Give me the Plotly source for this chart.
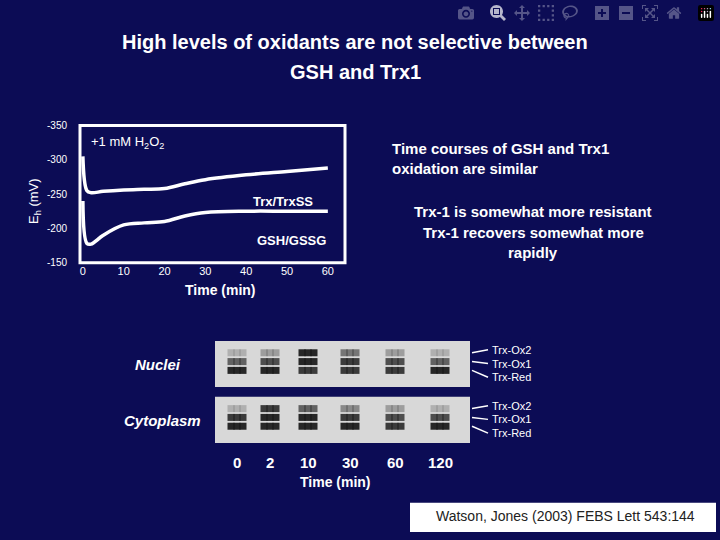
import plotly.graph_objects as go

time_trx = [0, 1, 2, 5, 10, 15, 20, 25, 30, 40, 50, 60]
eh_trx = [-305, -255, -252, -254, -256, -257, -258, -265, -271, -278, -283, -288]
time_gsh = [0, 1, 2, 5, 10, 15, 20, 25, 30, 40, 50, 60]
eh_gsh = [-240, -178, -177, -190, -205, -208, -210, -218, -223, -225, -225, -225]
x_ticks = [0, 10, 20, 30, 40, 50, 60]
y_ticks = [-350, -300, -250, -200, -150]
y_tick_text = ["-350", "-300", "-250", "-200", "-150"]

lane_labels = ["0", "2", "10", "30", "60", "120"]
band_names = ["Trx-Ox2", "Trx-Ox1", "Trx-Red"]
nuc_intensity = [[0.2, 0.3, 0.9, 0.5, 0.3, 0.2],
                 [0.6, 0.7, 0.9, 0.8, 0.7, 0.6],
                 [0.9, 0.9, 0.8, 0.8, 0.8, 0.9]]
cyt_intensity = [[0.2, 0.8, 0.6, 0.4, 0.3, 0.2],
                 [0.8, 0.9, 0.9, 0.8, 0.7, 0.7],
                 [0.9, 0.9, 0.9, 0.9, 0.8, 0.9]]

BG = "#0c0c55"
W = 720; H = 540
fig = go.Figure()
fig.add_trace(go.Scatter(x=time_trx, y=eh_trx, mode="lines", line=dict(color="white", width=3.5, shape="spline"), showlegend=False))
fig.add_trace(go.Scatter(x=time_gsh, y=eh_gsh, mode="lines", line=dict(color="white", width=3.5, shape="spline"), showlegend=False))

lane_px = [237, 270, 308, 350, 395, 440]
gels = [(nuc_intensity, 355), (cyt_intensity, 412)]
for inten, top in gels:
    fig.add_shape(type="rect", xref="x2", yref="y2", x0=215, x1=470, y0=top - 12, y1=top + 35,
                  fillcolor="#d8d8d8", line=dict(width=0), layer="below")
    for r, row in enumerate(inten):
        yy = top + r * 9
        for off in (0, 6, 12):
            fig.add_trace(go.Scatter(
                x=[p - 6 + off for p in lane_px], y=[yy] * len(lane_px), xaxis="x2", yaxis="y2", mode="markers",
                marker=dict(symbol="square", size=7, color=[f"rgba(20,20,20,{v})" for v in row],
                            line=dict(width=0)), showlegend=False, hoverinfo="skip"))
    for r, nm in enumerate(band_names):
        fig.add_annotation(x=490, y=top - 3 + r * 14, xref="x2", yref="y2", text=nm, showarrow=False,
                           xanchor="left", font=dict(color="white", size=11, family="Arial"))
        fig.add_shape(type="line", xref="x2", yref="y2", x0=472, x1=488, y0=top + r * 9, y1=top - 3 + r * 14,
                      line=dict(color="white", width=1.5))

fig.update_layout(
    width=W, height=H, paper_bgcolor=BG, plot_bgcolor="rgba(0,0,0,0)",
    margin=dict(l=0, r=0, t=0, b=0),
    font=dict(family="Arial", color="white"),
    xaxis=dict(domain=[80 / W, 345 / W], range=[-0.7, 64.2], tickvals=x_ticks, showgrid=False, zeroline=False,
               showline=False, ticks="", tickfont=dict(size=11, color="#ffffff"), anchor="y"),
    yaxis=dict(domain=[1 - 263 / H, 1 - 123 / H], range=[-150, -350], tickvals=y_ticks, ticktext=y_tick_text,
               showgrid=False, zeroline=False, showline=False, ticks="", tickfont=dict(size=10, color="#ffffff"),
               ticklabelstandoff=12),
    xaxis2=dict(domain=[0, 1], range=[0, W], visible=False, anchor="y2"),
    yaxis2=dict(domain=[0, 1], range=[H, 0], visible=False, anchor="x2"),
)
fig.add_shape(type="rect", xref="x domain", yref="y domain", x0=0, x1=1, y0=0, y1=1,
              line=dict(color="white", width=3))

def txt(x, y, t, size=14, bold=False, anchor="center", italic=False, color="white"):
    if bold: t = f"<b>{t}</b>"
    if italic: t = f"<i>{t}</i>"
    fig.add_annotation(x=x / W, y=1 - y / H, xref="paper", yref="paper", text=t, showarrow=False,
                       xanchor=anchor, yanchor="middle", font=dict(size=size, color=color, family="Arial"))

txt(355, 38, "High levels of oxidants are not selective between", 20, True)
txt(355, 68, "GSH and Trx1", 20, True)
txt(89, 140, "+1 mM H<sub>2</sub>O<sub>2</sub>", 13, anchor="left")
txt(315, 201, "Trx/TrxSS", 13, True, anchor="right")
txt(328, 240, "GSH/GSSG", 13, True, anchor="right")
txt(220, 291, "Time (min)", 14, True)
fig.add_annotation(x=24 / W, y=1 - 175 / H, xref="paper", yref="paper", text="E<sub>h</sub> (mV)", textangle=-90,
                   showarrow=False, font=dict(size=13, color="white", family="Arial"))
txt(390, 146, "Time courses of GSH and Trx1", 15, True, anchor="left")
txt(390, 167, "oxidation are similar", 15, True, anchor="left")
txt(533, 211, "Trx-1 is somewhat more resistant", 15, True)
txt(533, 232, "Trx-1 recovers somewhat more", 15, True)
txt(533, 253, "rapidly", 15, True)
txt(158, 367, "Nuclei", 15, True, italic=True)
txt(162, 424, "Cytoplasm", 15, True, italic=True)
for lbl, px in zip(lane_labels, lane_px):
    txt(px, 467, lbl, 15, True)
txt(335, 487, "Time (min)", 14, True)
txt(565, 522, "Watson, Jones (2003) FEBS Lett 543:144", 14, False, color="#222222")
fig.add_shape(type="rect", xref="paper", yref="paper", x0=410 / W, x1=716 / W, y0=1 - 538 / H, y1=1 - 508 / H,
              fillcolor="white", line=dict(width=0), layer="below")
fig.write_html("out.html", post_script="document.body.style.margin='0';document.body.style.background='#0c0c55';")
